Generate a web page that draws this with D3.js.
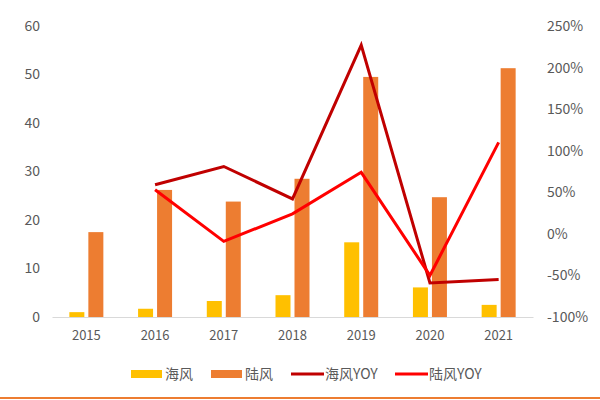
<!DOCTYPE html>
<html>
<head>
<meta charset="utf-8">
<script src="https://cdn.jsdelivr.net/npm/d3@7"></script>
<style>
  body { margin: 0; background: #fff; }
  text { font-family: "Noto Sans CJK SC", "Open Sans", sans-serif; fill: #595959; }
</style>
</head>
<body>
<div id="container"></div>
<script>
// chart values
var years = ["2015", "2016", "2017", "2018", "2019", "2020", "2021"];
var offshore = [1.0, 1.7, 3.3, 4.5, 15.4, 6.1, 2.5];
var onshore = [17.5, 26.2, 23.8, 28.5, 49.5, 24.7, 51.3];
var offshoreYoy = [null, 59, 81, 42, 227, -59, -55];
var onshoreYoy = [null, 53, -9, 24, 74, -50, 110];
var leftTicks = [0, 10, 20, 30, 40, 50, 60];
var rightTicks = [-100, -50, 0, 50, 100, 150, 200, 250];

var w = 600;
var h = 400;
// plot area edges (avoid "top" which clashes with window.top)
var plotLeft = 52, plotRight = 533, plotTop = 26, plotBottom = 317;

var svg = d3
  .select("#container")
  .append("svg")
  .attr("width", w)
  .attr("height", h);

var xScale = d3.scaleBand().domain(years).range([plotLeft, plotRight]);
var yScale = d3.scaleLinear().domain([0, 60]).range([plotBottom, plotTop]);
var yRight = d3.scaleLinear().domain([-100, 250]).range([plotBottom, plotTop]);

var barW = 15;
var gap = 4;

// left axis
var yAxis = d3.axisLeft(yScale).tickValues(leftTicks).tickSize(0).tickPadding(12);
svg.append("g")
  .attr("transform", "translate(" + plotLeft + ",0)")
  .call(yAxis)
  .call((g) => g.select(".domain").remove())
  .selectAll("text")
  .style("font-size", "14px");

// right axis
var yAxisR = d3.axisRight(yRight).tickValues(rightTicks).tickSize(0).tickPadding(14)
  .tickFormat((d) => d + "%");
svg.append("g")
  .attr("transform", "translate(" + plotRight + ",0)")
  .call(yAxisR)
  .call((g) => g.select(".domain").remove())
  .selectAll("text")
  .style("font-size", "14px");

// bars
svg.selectAll(".bar-off")
  .data(offshore)
  .enter()
  .append("rect")
  .attr("class", "bar-off")
  .attr("x", (d, i) => xScale(years[i]) + xScale.bandwidth() / 2 - gap / 2 - barW)
  .attr("y", (d) => yScale(d))
  .attr("width", barW)
  .attr("height", (d) => plotBottom - yScale(d))
  .attr("fill", "#FFC000");

svg.selectAll(".bar-on")
  .data(onshore)
  .enter()
  .append("rect")
  .attr("class", "bar-on")
  .attr("x", (d, i) => xScale(years[i]) + xScale.bandwidth() / 2 + gap / 2)
  .attr("y", (d) => yScale(d))
  .attr("width", barW)
  .attr("height", (d) => plotBottom - yScale(d))
  .attr("fill", "#ED7D31");

// x axis
var xAxis = d3.axisBottom(xScale).tickSize(0).tickPadding(14);
svg.append("g")
  .attr("transform", "translate(0," + plotBottom + ")")
  .call(xAxis)
  .call((g) => g.select(".domain").attr("stroke", "#d9d9d9"))
  .selectAll("text")
  .style("font-size", "13px");

// lines
var line = d3.line()
  .defined((d) => d != null)
  .x((d, i) => xScale(years[i]) + xScale.bandwidth() / 2)
  .y((d) => yRight(d));

svg.append("path")
  .datum(offshoreYoy)
  .attr("d", line)
  .attr("fill", "none")
  .attr("stroke", "#C00000")
  .attr("stroke-width", 3);

svg.append("path")
  .datum(onshoreYoy)
  .attr("d", line)
  .attr("fill", "none")
  .attr("stroke", "#FF0000")
  .attr("stroke-width", 3);

// legend
var legend = [
  { name: "海风", color: "#FFC000", type: "rect", x: 131 },
  { name: "陆风", color: "#ED7D31", type: "rect", x: 211 },
  { name: "海风YOY", color: "#C00000", type: "line", x: 291 },
  { name: "陆风YOY", color: "#FF0000", type: "line", x: 395 }
];
var ly = 374;
legend.forEach((d) => {
  if (d.type === "rect") {
    svg.append("rect")
      .attr("x", d.x).attr("y", ly - 4)
      .attr("width", 31).attr("height", 8)
      .attr("fill", d.color);
  } else {
    svg.append("line")
      .attr("x1", d.x).attr("x2", d.x + 33)
      .attr("y1", ly).attr("y2", ly)
      .attr("stroke", d.color)
      .attr("stroke-width", 3);
  }
  svg.append("text")
    .attr("x", d.x + 34)
    .attr("y", ly)
    .attr("dy", "0.35em")
    .style("font-size", "14px")
    .text(d.name);
});

// bottom border line
svg.append("line")
  .attr("x1", 0).attr("x2", w)
  .attr("y1", 398).attr("y2", 398)
  .attr("stroke", "#ED7D31")
  .attr("stroke-width", 2);
</script>
</body>
</html>
